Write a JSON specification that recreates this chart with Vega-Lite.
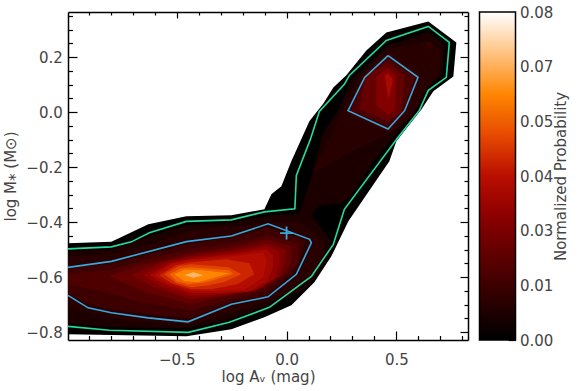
{
  "$schema": "https://vega.github.io/schema/vega-lite/v6.json",
  "background": "white",
  "padding": {"left": 3, "top": 5, "right": 5, "bottom": 5},
  "spacing": 9.5,
  "config": {
    "view": {"stroke": null},
    "font": "DejaVu Sans",
    "axis": {
      "labelFont": "DejaVu Sans", "titleFont": "DejaVu Sans",
      "labelFontSize": 15, "titleFontSize": 15,
      "labelColor": "#444444", "titleColor": "#444444", "titleFontWeight": "normal",
      "tickColor": "#000000", "domainColor": "#000000", "domainWidth": 1.5, "tickWidth": 1.2,
      "grid": false, "zindex": 1, "labelOverlap": false, "labelFlush": false, "labelAngle": 0
    }
  },
  "datasets": {
    "fills": [
      {"g":"p00","v":0,"i":0,"x":-0.995,"y":-0.4775},{"g":"p00","v":0,"i":1,"x":-0.7975,"y":-0.472},{"g":"p00","v":0,"i":2,"x":-0.629,"y":-0.4084},{"g":"p00","v":0,"i":3,"x":-0.4561,"y":-0.3793},{"g":"p00","v":0,"i":4,"x":-0.2513,"y":-0.3756},{"g":"p00","v":0,"i":5,"x":-0.101,"y":-0.3538},{"g":"p00","v":0,"i":6,"x":-0.0692,"y":-0.2993},{"g":"p00","v":0,"i":7,"x":-0.0237,"y":-0.2702},{"g":"p00","v":0,"i":8,"x":0.0218,"y":-0.1793},{"g":"p00","v":0,"i":9,"x":0.1038,"y":-0.0338},{"g":"p00","v":0,"i":10,"x":0.1675,"y":0.0316},{"g":"p00","v":0,"i":11,"x":0.213,"y":0.0898},{"g":"p00","v":0,"i":12,"x":0.2722,"y":0.1335},{"g":"p00","v":0,"i":13,"x":0.3632,"y":0.2244},{"g":"p00","v":0,"i":14,"x":0.4543,"y":0.2898},{"g":"p00","v":0,"i":15,"x":0.6454,"y":0.3298},{"g":"p00","v":0,"i":16,"x":0.7729,"y":0.2535},{"g":"p00","v":0,"i":17,"x":0.7592,"y":0.1298},{"g":"p00","v":0,"i":18,"x":0.6682,"y":0.0753},{"g":"p00","v":0,"i":19,"x":0.6136,"y":0.0098},{"g":"p00","v":0,"i":20,"x":0.4998,"y":-0.1065},{"g":"p00","v":0,"i":21,"x":0.4679,"y":-0.1793},{"g":"p00","v":0,"i":22,"x":0.3496,"y":-0.3175},{"g":"p00","v":0,"i":23,"x":0.2813,"y":-0.3975},{"g":"p00","v":0,"i":24,"x":0.2039,"y":-0.5247},{"g":"p00","v":0,"i":25,"x":0.1265,"y":-0.6193},{"g":"p00","v":0,"i":26,"x":0.0218,"y":-0.7029},{"g":"p00","v":0,"i":27,"x":-0.101,"y":-0.7465},{"g":"p00","v":0,"i":28,"x":-0.2513,"y":-0.7902},{"g":"p00","v":0,"i":29,"x":-0.4561,"y":-0.8156},{"g":"p00","v":0,"i":30,"x":-0.995,"y":-0.8084},

      {"g":"p01","v":0.006,"i":0,"x":-0.995,"y":-0.5065},{"g":"p01","v":0.006,"i":1,"x":-0.7975,"y":-0.4993},{"g":"p01","v":0.006,"i":2,"x":-0.6245,"y":-0.452},{"g":"p01","v":0.006,"i":3,"x":-0.4561,"y":-0.412},{"g":"p01","v":0.006,"i":4,"x":-0.2513,"y":-0.4011},{"g":"p01","v":0.006,"i":5,"x":-0.0692,"y":-0.3756},{"g":"p01","v":0.006,"i":6,"x":0.0583,"y":-0.3684},{"g":"p01","v":0.006,"i":7,"x":0.1129,"y":-0.2375},{"g":"p01","v":0.006,"i":8,"x":0.163,"y":-0.0811},{"g":"p01","v":0.006,"i":9,"x":0.2358,"y":0.0098},{"g":"p01","v":0.006,"i":10,"x":0.2949,"y":0.1189},{"g":"p01","v":0.006,"i":11,"x":0.4634,"y":0.2425},{"g":"p01","v":0.006,"i":12,"x":0.6454,"y":0.2935},{"g":"p01","v":0.006,"i":13,"x":0.7183,"y":0.2425},{"g":"p01","v":0.006,"i":14,"x":0.7091,"y":0.1371},{"g":"p01","v":0.006,"i":15,"x":0.6454,"y":0.0898},{"g":"p01","v":0.006,"i":16,"x":0.5999,"y":0.0171},{"g":"p01","v":0.006,"i":17,"x":0.4952,"y":-0.0811},{"g":"p01","v":0.006,"i":18,"x":0.3951,"y":-0.1793},{"g":"p01","v":0.006,"i":19,"x":0.2949,"y":-0.3029},{"g":"p01","v":0.006,"i":20,"x":0.2494,"y":-0.332},{"g":"p01","v":0.006,"i":21,"x":0.1493,"y":-0.3393},{"g":"p01","v":0.006,"i":22,"x":0.1129,"y":-0.3756},{"g":"p01","v":0.006,"i":23,"x":0.2039,"y":-0.4702},{"g":"p01","v":0.006,"i":24,"x":0.1857,"y":-0.5429},{"g":"p01","v":0.006,"i":25,"x":0.0856,"y":-0.6447},{"g":"p01","v":0.006,"i":26,"x":-0.0692,"y":-0.7029},{"g":"p01","v":0.006,"i":27,"x":-0.2604,"y":-0.7538},{"g":"p01","v":0.006,"i":28,"x":-0.447,"y":-0.7865},{"g":"p01","v":0.006,"i":29,"x":-0.8065,"y":-0.7829},{"g":"p01","v":0.006,"i":30,"x":-0.995,"y":-0.7684},

      {"g":"p02","v":0.009,"i":0,"x":-0.995,"y":-0.5247},{"g":"p02","v":0.009,"i":1,"x":-0.7975,"y":-0.5175},{"g":"p02","v":0.009,"i":2,"x":-0.6154,"y":-0.4811},{"g":"p02","v":0.009,"i":3,"x":-0.4333,"y":-0.4302},{"g":"p02","v":0.009,"i":4,"x":-0.2513,"y":-0.4193},{"g":"p02","v":0.009,"i":5,"x":-0.0874,"y":-0.4047},{"g":"p02","v":0.009,"i":6,"x":0.0583,"y":-0.3975},{"g":"p02","v":0.009,"i":7,"x":0.1675,"y":-0.4702},{"g":"p02","v":0.009,"i":8,"x":0.1675,"y":-0.5429},{"g":"p02","v":0.009,"i":9,"x":0.0492,"y":-0.6411},{"g":"p02","v":0.009,"i":10,"x":-0.0919,"y":-0.6884},{"g":"p02","v":0.009,"i":11,"x":-0.2604,"y":-0.732},{"g":"p02","v":0.009,"i":12,"x":-0.4333,"y":-0.772},{"g":"p02","v":0.009,"i":13,"x":-0.7064,"y":-0.7611},{"g":"p02","v":0.009,"i":14,"x":-0.995,"y":-0.7102},

      {"g":"p03","v":0.009,"i":0,"x":0.2494,"y":0.0025},{"g":"p03","v":0.009,"i":1,"x":0.3405,"y":0.1371},{"g":"p03","v":0.009,"i":2,"x":0.4452,"y":0.2244},{"g":"p03","v":0.009,"i":3,"x":0.6454,"y":0.2571},{"g":"p03","v":0.009,"i":4,"x":0.7046,"y":0.228},{"g":"p03","v":0.009,"i":5,"x":0.6909,"y":0.1371},{"g":"p03","v":0.009,"i":6,"x":0.6272,"y":0.0789},{"g":"p03","v":0.009,"i":7,"x":0.568,"y":-0.0193},{"g":"p03","v":0.009,"i":8,"x":0.477,"y":-0.0738},{"g":"p03","v":0.009,"i":9,"x":0.2813,"y":-0.1502},{"g":"p03","v":0.009,"i":10,"x":0.122,"y":-0.2229},

      {"g":"p04","v":0.013,"i":0,"x":-0.995,"y":-0.5684},{"g":"p04","v":0.013,"i":1,"x":-0.7975,"y":-0.5502},{"g":"p04","v":0.013,"i":2,"x":-0.4333,"y":-0.4775},{"g":"p04","v":0.013,"i":3,"x":-0.2513,"y":-0.4556},{"g":"p04","v":0.013,"i":4,"x":-0.0874,"y":-0.4193},{"g":"p04","v":0.013,"i":5,"x":0.0856,"y":-0.4665},{"g":"p04","v":0.013,"i":6,"x":0.0583,"y":-0.5429},{"g":"p04","v":0.013,"i":7,"x":0.031,"y":-0.5865},{"g":"p04","v":0.013,"i":8,"x":-0.0919,"y":-0.6702},{"g":"p04","v":0.013,"i":9,"x":-0.2513,"y":-0.692},{"g":"p04","v":0.013,"i":10,"x":-0.4333,"y":-0.7502},{"g":"p04","v":0.013,"i":11,"x":-0.629,"y":-0.7356},{"g":"p04","v":0.013,"i":12,"x":-0.7975,"y":-0.7175},{"g":"p04","v":0.013,"i":13,"x":-0.9021,"y":-0.6993},{"g":"p04","v":0.013,"i":14,"x":-0.995,"y":-0.6593},

      {"g":"p05","v":0.012,"i":0,"x":0.2722,"y":-0.0047},{"g":"p05","v":0.012,"i":1,"x":0.3496,"y":0.1335},{"g":"p05","v":0.012,"i":2,"x":0.4634,"y":0.2171},{"g":"p05","v":0.012,"i":3,"x":0.609,"y":0.1335},{"g":"p05","v":0.012,"i":4,"x":0.5498,"y":-0.0047},{"g":"p05","v":0.012,"i":5,"x":0.4679,"y":-0.0738},

      {"g":"p06","v":0.012,"i":0,"x":0.6318,"y":0.2571},{"g":"p06","v":0.012,"i":1,"x":0.6636,"y":0.2535},{"g":"p06","v":0.012,"i":2,"x":0.65,"y":0.228},

      {"g":"p07","v":0.017,"i":0,"x":-0.995,"y":-0.5902},{"g":"p07","v":0.017,"i":1,"x":-0.7975,"y":-0.572},{"g":"p07","v":0.017,"i":2,"x":-0.6154,"y":-0.532},{"g":"p07","v":0.017,"i":3,"x":-0.4333,"y":-0.4993},{"g":"p07","v":0.017,"i":4,"x":-0.2513,"y":-0.4775},{"g":"p07","v":0.017,"i":5,"x":-0.0874,"y":-0.4484},{"g":"p07","v":0.017,"i":6,"x":0.0537,"y":-0.4775},{"g":"p07","v":0.017,"i":7,"x":0.0537,"y":-0.5429},{"g":"p07","v":0.017,"i":8,"x":0.0127,"y":-0.5865},{"g":"p07","v":0.017,"i":9,"x":-0.1056,"y":-0.652},{"g":"p07","v":0.017,"i":10,"x":-0.274,"y":-0.6847},{"g":"p07","v":0.017,"i":11,"x":-0.4333,"y":-0.7211},{"g":"p07","v":0.017,"i":12,"x":-0.6609,"y":-0.692},{"g":"p07","v":0.017,"i":13,"x":-0.8429,"y":-0.652},{"g":"p07","v":0.017,"i":14,"x":-0.995,"y":-0.6265},

      {"g":"p08","v":0.016,"i":0,"x":0.2904,"y":0.0058},{"g":"p08","v":0.016,"i":1,"x":0.3587,"y":0.1262},{"g":"p08","v":0.016,"i":2,"x":0.462,"y":0.1953},{"g":"p08","v":0.016,"i":3,"x":0.5863,"y":0.1262},{"g":"p08","v":0.016,"i":4,"x":0.5316,"y":0.0058},{"g":"p08","v":0.016,"i":5,"x":0.4634,"y":-0.052},

      {"g":"p09","v":0.022,"i":0,"x":-0.8065,"y":-0.5975},{"g":"p09","v":0.022,"i":1,"x":-0.6609,"y":-0.5575},{"g":"p09","v":0.022,"i":2,"x":-0.4333,"y":-0.5138},{"g":"p09","v":0.022,"i":3,"x":-0.2513,"y":-0.492},{"g":"p09","v":0.022,"i":4,"x":-0.0874,"y":-0.4629},{"g":"p09","v":0.022,"i":5,"x":0.0218,"y":-0.4884},{"g":"p09","v":0.022,"i":6,"x":0.0218,"y":-0.5429},{"g":"p09","v":0.022,"i":7,"x":-0.0055,"y":-0.5865},{"g":"p09","v":0.022,"i":8,"x":-0.1238,"y":-0.6447},{"g":"p09","v":0.022,"i":9,"x":-0.2877,"y":-0.6702},{"g":"p09","v":0.022,"i":10,"x":-0.4333,"y":-0.6993},{"g":"p09","v":0.022,"i":11,"x":-0.6381,"y":-0.6556},

      {"g":"p10","v":0.022,"i":0,"x":0.3327,"y":0.0098},{"g":"p10","v":0.022,"i":1,"x":0.3555,"y":0.1309},{"g":"p10","v":0.022,"i":2,"x":0.462,"y":0.1796},{"g":"p10","v":0.022,"i":3,"x":0.5375,"y":0.1309},{"g":"p10","v":0.022,"i":4,"x":0.5225,"y":-0.0022},{"g":"p10","v":0.022,"i":5,"x":0.462,"y":-0.0327},

      {"g":"p11","v":0.027,"i":0,"x":-0.7064,"y":-0.5938},{"g":"p11","v":0.027,"i":1,"x":-0.5699,"y":-0.5465},{"g":"p11","v":0.027,"i":2,"x":-0.4333,"y":-0.5229},{"g":"p11","v":0.027,"i":3,"x":-0.2513,"y":-0.5029},{"g":"p11","v":0.027,"i":4,"x":-0.0874,"y":-0.4775},{"g":"p11","v":0.027,"i":5,"x":-0.0055,"y":-0.4993},{"g":"p11","v":0.027,"i":6,"x":-0.0055,"y":-0.5429},{"g":"p11","v":0.027,"i":7,"x":-0.0282,"y":-0.5975},{"g":"p11","v":0.027,"i":8,"x":-0.1375,"y":-0.6484},{"g":"p11","v":0.027,"i":9,"x":-0.2877,"y":-0.6665},{"g":"p11","v":0.027,"i":10,"x":-0.4333,"y":-0.6811},{"g":"p11","v":0.027,"i":11,"x":-0.6063,"y":-0.6375},

      {"g":"p12","v":0.031,"i":0,"x":-0.6518,"y":-0.5938},{"g":"p12","v":0.031,"i":1,"x":-0.5471,"y":-0.5465},{"g":"p12","v":0.031,"i":2,"x":-0.4333,"y":-0.5284},{"g":"p12","v":0.031,"i":3,"x":-0.2513,"y":-0.5102},{"g":"p12","v":0.031,"i":4,"x":-0.0874,"y":-0.4884},{"g":"p12","v":0.031,"i":5,"x":-0.0328,"y":-0.5065},{"g":"p12","v":0.031,"i":6,"x":-0.0328,"y":-0.5538},{"g":"p12","v":0.031,"i":7,"x":-0.0555,"y":-0.6084},{"g":"p12","v":0.031,"i":8,"x":-0.1511,"y":-0.652},{"g":"p12","v":0.031,"i":9,"x":-0.2968,"y":-0.6629},{"g":"p12","v":0.031,"i":10,"x":-0.4333,"y":-0.6702},{"g":"p12","v":0.031,"i":11,"x":-0.5699,"y":-0.6338},

      {"g":"p13","v":0.028,"i":0,"x":0.4087,"y":0.1309},{"g":"p13","v":0.028,"i":1,"x":0.462,"y":0.1615},{"g":"p13","v":0.028,"i":2,"x":0.4998,"y":0.1309},{"g":"p13","v":0.028,"i":3,"x":0.492,"y":0.0036},{"g":"p13","v":0.028,"i":4,"x":0.462,"y":-0.0084},{"g":"p13","v":0.028,"i":5,"x":0.4087,"y":0.0218},

      {"g":"p14","v":0.035,"i":0,"x":-0.6245,"y":-0.5938},{"g":"p14","v":0.035,"i":1,"x":-0.5335,"y":-0.5502},{"g":"p14","v":0.035,"i":2,"x":-0.4333,"y":-0.5338},{"g":"p14","v":0.035,"i":3,"x":-0.2513,"y":-0.5175},{"g":"p14","v":0.035,"i":4,"x":-0.0919,"y":-0.4993},{"g":"p14","v":0.035,"i":5,"x":-0.0601,"y":-0.5211},{"g":"p14","v":0.035,"i":6,"x":-0.0601,"y":-0.5647},{"g":"p14","v":0.035,"i":7,"x":-0.0874,"y":-0.6156},{"g":"p14","v":0.035,"i":8,"x":-0.1693,"y":-0.652},{"g":"p14","v":0.035,"i":9,"x":-0.3059,"y":-0.6593},{"g":"p14","v":0.035,"i":10,"x":-0.4333,"y":-0.6593},{"g":"p14","v":0.035,"i":11,"x":-0.5562,"y":-0.6265},

      {"g":"p15","v":0.039,"i":0,"x":-0.6017,"y":-0.5938},{"g":"p15","v":0.039,"i":1,"x":-0.5198,"y":-0.5502},{"g":"p15","v":0.039,"i":2,"x":-0.4333,"y":-0.5393},{"g":"p15","v":0.039,"i":3,"x":-0.2513,"y":-0.5247},{"g":"p15","v":0.039,"i":4,"x":-0.1056,"y":-0.5102},{"g":"p15","v":0.039,"i":5,"x":-0.0919,"y":-0.5429},{"g":"p15","v":0.039,"i":6,"x":-0.1056,"y":-0.6011},{"g":"p15","v":0.039,"i":7,"x":-0.1875,"y":-0.6447},{"g":"p15","v":0.039,"i":8,"x":-0.3195,"y":-0.652},{"g":"p15","v":0.039,"i":9,"x":-0.4333,"y":-0.652},{"g":"p15","v":0.039,"i":10,"x":-0.5426,"y":-0.6229},

      {"g":"p16","v":0.036,"i":0,"x":0.4465,"y":0.1309},{"g":"p16","v":0.036,"i":1,"x":0.462,"y":0.1433},{"g":"p16","v":0.036,"i":2,"x":0.4848,"y":0.1189},{"g":"p16","v":0.036,"i":3,"x":0.4647,"y":0.0462},

      {"g":"p17","v":0.044,"i":0,"x":-0.579,"y":-0.5938},{"g":"p17","v":0.044,"i":1,"x":-0.5061,"y":-0.5575},{"g":"p17","v":0.044,"i":2,"x":-0.4333,"y":-0.5465},{"g":"p17","v":0.044,"i":3,"x":-0.274,"y":-0.5356},{"g":"p17","v":0.044,"i":4,"x":-0.1693,"y":-0.5502},{"g":"p17","v":0.044,"i":5,"x":-0.1466,"y":-0.5902},{"g":"p17","v":0.044,"i":6,"x":-0.2239,"y":-0.6265},{"g":"p17","v":0.044,"i":7,"x":-0.3423,"y":-0.6447},{"g":"p17","v":0.044,"i":8,"x":-0.4333,"y":-0.6447},{"g":"p17","v":0.044,"i":9,"x":-0.5243,"y":-0.6229},

      {"g":"p18","v":0.049,"i":0,"x":-0.5562,"y":-0.5902},{"g":"p18","v":0.049,"i":1,"x":-0.4925,"y":-0.5611},{"g":"p18","v":0.049,"i":2,"x":-0.4333,"y":-0.5538},{"g":"p18","v":0.049,"i":3,"x":-0.2649,"y":-0.5647},{"g":"p18","v":0.049,"i":4,"x":-0.2057,"y":-0.5902},{"g":"p18","v":0.049,"i":5,"x":-0.2877,"y":-0.6193},{"g":"p18","v":0.049,"i":6,"x":-0.3559,"y":-0.6302},{"g":"p18","v":0.049,"i":7,"x":-0.4333,"y":-0.6375},{"g":"p18","v":0.049,"i":8,"x":-0.5016,"y":-0.6229},

      {"g":"p19","v":0.054,"i":0,"x":-0.5335,"y":-0.5902},{"g":"p19","v":0.054,"i":1,"x":-0.4788,"y":-0.5684},{"g":"p19","v":0.054,"i":2,"x":-0.4333,"y":-0.5647},{"g":"p19","v":0.054,"i":3,"x":-0.2604,"y":-0.5756},{"g":"p19","v":0.054,"i":4,"x":-0.2421,"y":-0.5902},{"g":"p19","v":0.054,"i":5,"x":-0.365,"y":-0.6193},{"g":"p19","v":0.054,"i":6,"x":-0.447,"y":-0.6265},{"g":"p19","v":0.054,"i":7,"x":-0.5016,"y":-0.6156},

      {"g":"p20","v":0.06,"i":0,"x":-0.5107,"y":-0.5902},{"g":"p20","v":0.06,"i":1,"x":-0.4652,"y":-0.5738},{"g":"p20","v":0.06,"i":2,"x":-0.3878,"y":-0.5756},{"g":"p20","v":0.06,"i":3,"x":-0.2604,"y":-0.5865},{"g":"p20","v":0.06,"i":4,"x":-0.4015,"y":-0.6193},{"g":"p20","v":0.06,"i":5,"x":-0.4652,"y":-0.6156},

      {"g":"p21","v":0.068,"i":0,"x":-0.4652,"y":-0.5927},{"g":"p21","v":0.068,"i":1,"x":-0.4242,"y":-0.5829},{"g":"p21","v":0.068,"i":2,"x":-0.3787,"y":-0.5938},{"g":"p21","v":0.068,"i":3,"x":-0.4242,"y":-0.6029}
    ],
    "lines": [
      {"g":"l1","kind":"outer","i":0,"x":-0.995,"y":-0.4975},{"g":"l1","kind":"outer","i":1,"x":-0.7975,"y":-0.4902},{"g":"l1","kind":"outer","i":2,"x":-0.7064,"y":-0.472},{"g":"l1","kind":"outer","i":3,"x":-0.6245,"y":-0.4393},{"g":"l1","kind":"outer","i":4,"x":-0.4561,"y":-0.3975},{"g":"l1","kind":"outer","i":5,"x":-0.2513,"y":-0.392},{"g":"l1","kind":"outer","i":6,"x":-0.101,"y":-0.3629},{"g":"l1","kind":"outer","i":7,"x":0.0378,"y":-0.352},{"g":"l1","kind":"outer","i":8,"x":0.0446,"y":-0.2302},{"g":"l1","kind":"outer","i":9,"x":0.1083,"y":-0.0993},{"g":"l1","kind":"outer","i":10,"x":0.1493,"y":0.0025},{"g":"l1","kind":"outer","i":11,"x":0.2631,"y":0.1007},{"g":"l1","kind":"outer","i":12,"x":0.2858,"y":0.1335},{"g":"l1","kind":"outer","i":13,"x":0.4543,"y":0.2607},{"g":"l1","kind":"outer","i":14,"x":0.6454,"y":0.3116},{"g":"l1","kind":"outer","i":15,"x":0.741,"y":0.2535},{"g":"l1","kind":"outer","i":16,"x":0.7274,"y":0.1262},{"g":"l1","kind":"outer","i":17,"x":0.6454,"y":0.0789},{"g":"l1","kind":"outer","i":18,"x":0.6045,"y":0.0062},{"g":"l1","kind":"outer","i":19,"x":0.5043,"y":-0.0956},{"g":"l1","kind":"outer","i":20,"x":0.2631,"y":-0.3538},{"g":"l1","kind":"outer","i":21,"x":0.213,"y":-0.4811},{"g":"l1","kind":"outer","i":22,"x":0.1129,"y":-0.5975},{"g":"l1","kind":"outer","i":23,"x":-0.0783,"y":-0.7102},{"g":"l1","kind":"outer","i":24,"x":-0.2604,"y":-0.7647},{"g":"l1","kind":"outer","i":25,"x":-0.447,"y":-0.8011},{"g":"l1","kind":"outer","i":26,"x":-0.8065,"y":-0.7938},{"g":"l1","kind":"outer","i":27,"x":-0.995,"y":-0.7793},
      {"g":"l2","kind":"inner","i":0,"x":-0.995,"y":-0.5647},{"g":"l2","kind":"inner","i":1,"x":-0.7975,"y":-0.5429},{"g":"l2","kind":"inner","i":2,"x":-0.4561,"y":-0.4713},{"g":"l2","kind":"inner","i":3,"x":-0.2513,"y":-0.4509},{"g":"l2","kind":"inner","i":4,"x":-0.0842,"y":-0.4065},{"g":"l2","kind":"inner","i":5,"x":0.1051,"y":-0.4629},{"g":"l2","kind":"inner","i":6,"x":0.1129,"y":-0.4756},{"g":"l2","kind":"inner","i":7,"x":0.0446,"y":-0.5902},{"g":"l2","kind":"inner","i":8,"x":-0.0842,"y":-0.672},{"g":"l2","kind":"inner","i":9,"x":-0.2513,"y":-0.6993},{"g":"l2","kind":"inner","i":10,"x":-0.4483,"y":-0.7629},{"g":"l2","kind":"inner","i":11,"x":-0.6304,"y":-0.7484},{"g":"l2","kind":"inner","i":12,"x":-0.7975,"y":-0.7302},{"g":"l2","kind":"inner","i":13,"x":-0.9035,"y":-0.712},{"g":"l2","kind":"inner","i":14,"x":-0.995,"y":-0.6665},
      {"g":"l3","kind":"inner","i":0,"x":0.462,"y":0.2051},{"g":"l3","kind":"inner","i":1,"x":0.5985,"y":0.1262},{"g":"l3","kind":"inner","i":2,"x":0.5375,"y":0.0051},{"g":"l3","kind":"inner","i":3,"x":0.462,"y":-0.0618},{"g":"l3","kind":"inner","i":4,"x":0.2799,"y":0.0051},{"g":"l3","kind":"inner","i":5,"x":0.3555,"y":0.1262},{"g":"l3","kind":"inner","i":6,"x":0.462,"y":0.2051}
    ],
    "cross": [{"x": 0.0, "y": -0.44}],
    "bar": [{"lo": 0, "hi": 0.08}]
  },
  "hconcat": [
    {
      "width": 400,
      "height": 328,
      "resolve": {"axis": {"x": "independent", "y": "independent"}},
      "layer": [
        {
          "data": {"name": "fills"},
          "mark": {"type": "line", "interpolate": "linear-closed", "strokeWidth": 0, "clip": true},
          "encoding": {
            "x": {"field": "x", "type": "quantitative", "scale": {"domain": [-0.995, 0.826], "nice": false, "zero": false},
              "axis": {"orient": "bottom", "values": [-0.9,-0.8,-0.7,-0.6,-0.5,-0.4,-0.3,-0.2,-0.1,0,0.1,0.2,0.3,0.4,0.5,0.6,0.7,0.8],
                "labelExpr": "abs(datum.value*2-round(datum.value*2))<0.001 ? format(datum.value,'.1f') : ''",
                "tickSize": {"condition": {"test": "abs(datum.value*2-round(datum.value*2))<0.001", "value": -9}, "value": -4.5},
                "labelPadding": 21, "title": "log Aᵥ (mag)", "titlePadding": -2}},
            "y": {"field": "y", "type": "quantitative", "scale": {"domain": [-0.829, 0.364], "nice": false, "zero": false},
              "axis": {"orient": "left", "values": [-0.8,-0.75,-0.7,-0.65,-0.6,-0.55,-0.5,-0.45,-0.4,-0.35,-0.3,-0.25,-0.2,-0.15,-0.1,-0.05,0,0.05,0.1,0.15,0.2,0.25,0.3,0.35],
                "labelExpr": "abs(datum.value*5-round(datum.value*5))<0.001 ? format(datum.value,'.1f') : ''",
                "tickSize": {"condition": {"test": "abs(datum.value*5-round(datum.value*5))<0.001", "value": -9}, "value": -4.5},
                "labelPadding": 14.7, "title": "log M⁎ (M⊙)", "titlePadding": 7}},
            "detail": {"field": "g"},
            "order": {"field": "i", "type": "quantitative"},
            "fill": {"field": "v", "type": "quantitative",
              "scale": {"domain": [0,0.01,0.02,0.03,0.04,0.05,0.06,0.07,0.08],
                "range": ["#000000","#2e0000","#5c0000","#8b0000","#b90e00","#e74a00","#ff8603","#ffc382","#ffffff"], "interpolate": "rgb"},
              "legend": null}
          }
        },
        {
          "data": {"name": "lines"},
          "mark": {"type": "line", "strokeWidth": 1.6, "clip": true},
          "encoding": {
            "x": {"field": "x", "type": "quantitative", "axis": null},
            "y": {"field": "y", "type": "quantitative", "axis": null},
            "detail": {"field": "g"},
            "order": {"field": "i", "type": "quantitative"},
            "color": {"field": "kind", "type": "nominal", "scale": {"domain": ["outer", "inner"], "range": ["#27d99e", "#38a9dd"]}, "legend": null}
          }
        },
        {
          "data": {"name": "cross"},
          "mark": {"type": "point", "shape": "M-1,0L1,0M0,-1L0,1", "size": 169, "filled": false, "color": "#38a9dd", "strokeWidth": 1.8, "opacity": 1},
          "encoding": {
            "x": {"field": "x", "type": "quantitative",
              "axis": {"orient": "top", "values": [-0.9,-0.8,-0.7,-0.6,-0.5,-0.4,-0.3,-0.2,-0.1,0,0.1,0.2,0.3,0.4,0.5,0.6,0.7,0.8], "labels": false, "title": null,
                "tickSize": {"condition": {"test": "abs(datum.value*2-round(datum.value*2))<0.001", "value": -6}, "value": -3}}},
            "y": {"field": "y", "type": "quantitative",
              "axis": {"orient": "right", "values": [-0.8,-0.75,-0.7,-0.65,-0.6,-0.55,-0.5,-0.45,-0.4,-0.35,-0.3,-0.25,-0.2,-0.15,-0.1,-0.05,0,0.05,0.1,0.15,0.2,0.25,0.3,0.35], "labels": false, "title": null,
                "tickSize": {"condition": {"test": "abs(datum.value*5-round(datum.value*5))<0.001", "value": -8}, "value": -4}}}
          }
        }
      ]
    },
    {
      "width": 36,
      "height": 328,
      "data": {"name": "bar"},
      "mark": {"type": "rect", "stroke": "#000000", "strokeWidth": 1.5,
        "fill": {"gradient": "linear", "x1": 0, "y1": 1, "x2": 0, "y2": 0,
          "stops": [{"offset": 0, "color": "#000000"}, {"offset": 0.125, "color": "#2e0000"}, {"offset": 0.25, "color": "#5c0000"}, {"offset": 0.375, "color": "#8b0000"}, {"offset": 0.5, "color": "#b90e00"}, {"offset": 0.625, "color": "#e74a00"}, {"offset": 0.75, "color": "#ff8603"}, {"offset": 0.875, "color": "#ffc382"}, {"offset": 1, "color": "#ffffff"}]}},
      "encoding": {
        "x": {"datum": 0, "type": "quantitative", "scale": {"domain": [0, 1], "nice": false, "zero": false}, "axis": null},
        "x2": {"datum": 1},
        "y": {"field": "lo", "type": "quantitative", "scale": {"domain": [0, 0.08], "nice": false, "zero": false},
          "axis": {"orient": "right", "domain": false,
            "values": [0, 0.0066667, 0.0133333, 0.02, 0.0266667, 0.0333333, 0.04, 0.0466667, 0.0533333, 0.06, 0.0666667, 0.0733333, 0.08],
            "labelExpr": "abs(datum.value*75-round(datum.value*75))<0.01 ? format(datum.value,'.2f') : ''",
            "tickSize": {"condition": {"test": "abs(datum.value*75-round(datum.value*75))<0.01", "value": -7.5}, "value": -4},
            "labelPadding": 11.5, "title": "Normalized Probability", "titleAngle": 270, "titlePadding": 16}},
        "y2": {"field": "hi"}
      }
    }
  ]
}
